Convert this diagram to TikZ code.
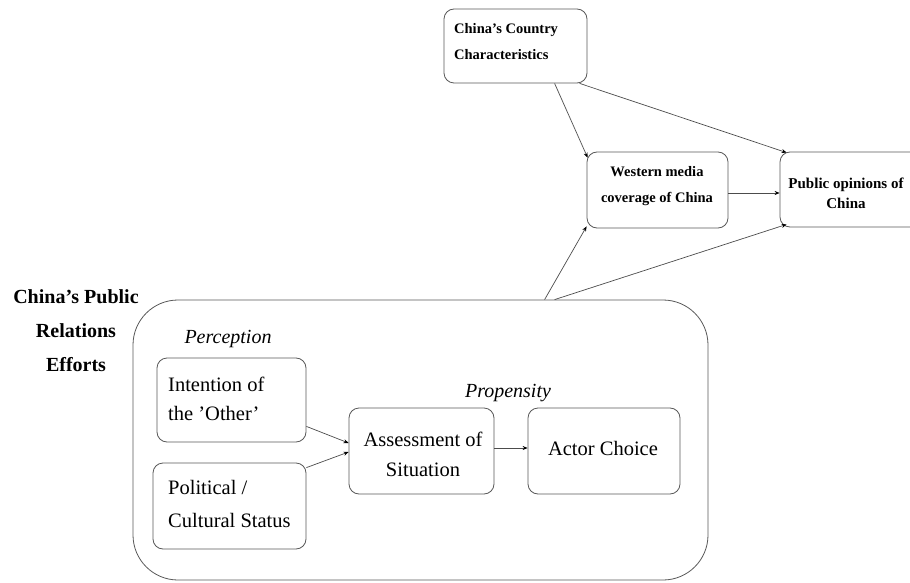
\documentclass[tikz,border=0pt]{standalone}
\usepackage{fontspec}
\setmainfont{Liberation Serif}
\usetikzlibrary{arrows.meta}
\begin{document}
\begin{tikzpicture}[x=1pt,y=-1pt,
  box/.style={draw=black!65, line width=0.8pt, rounded corners=10pt, inner sep=0pt},
  conn/.style={draw=black!70, line width=0.7pt, -{Stealth[length=5pt,width=4pt,color=black]}},
  smallbold/.style={font=\fontsize{14.5}{26}\selectfont\bfseries, inner sep=0pt},
  regular/.style={font=\fontsize{20.5}{29}\selectfont, inner sep=0pt},
  ital/.style={font=\fontsize{20}{24}\selectfont\itshape, inner sep=0pt}]
\clip (0,0) rectangle (910,583);
\fill[white] (0,0) rectangle (910,583);
% top boxes
\node[box, minimum width=143, minimum height=74] (country) at (515.5,46) {};
\node[box, minimum width=141, minimum height=76] (western) at (657.5,190) {};
\node[box, minimum width=155, minimum height=75] (public) at (857.5,189.5) {};
% big box
\node[box, rounded corners=45pt, minimum width=575, minimum height=280] (big) at (420.5,440) {};
% inner boxes
\node[box, minimum width=149, minimum height=84] (intention) at (231.5,400) {};
\node[box, minimum width=153, minimum height=86] (political) at (229.5,506) {};
\node[box, minimum width=145, minimum height=86] (assess) at (421.5,451) {};
\node[box, minimum width=152, minimum height=86] (actor) at (604,451) {};
% texts
\node[smallbold, align=left, anchor=west] (countryt) at (454,42) {China’s Country\\Characteristics};
\node[smallbold, align=center] (westernt) at (657,186.5) {Western media\\coverage of China};
\node[font=\fontsize{15}{20}\selectfont\bfseries, inner sep=0pt, align=center] (publict) at (846,193) {Public opinions of\\China};
\node[font=\fontsize{20}{34}\selectfont\bfseries, inner sep=0pt, align=center] (label) at (76,331) {China’s Public\\Relations\\Efforts};
\node[regular, align=left, anchor=west] (intentiont) at (168,398.5) {Intention of\\the ’Other’};
\node[font=\fontsize{20.5}{33}\selectfont, inner sep=0pt, align=left, anchor=west] (politicalt) at (168,503.5) {Political /\\Cultural Status};
\node[font=\fontsize{20.5}{30}\selectfont, inner sep=0pt, align=center] (assesst) at (423,454) {Assessment of\\Situation};
\node[regular] (actort) at (603,448) {Actor Choice};
\node[ital] (perception) at (228,339) {Perception};
\node[ital] (propensity) at (508,393) {Propensity};
% connectors
\draw[conn] ([xshift=111pt]country.south west) -- ([xshift=1pt,yshift=-6pt]western.north west);
\draw[conn] ([xshift=136pt]country.south west) -- ([xshift=7pt,yshift=-1pt]public.north west);
\draw[conn] ([yshift=-3pt]western.east) -- ([yshift=-3pt]western.east -| public.west);
\draw[conn] ([xshift=412pt]big.north west) -- ([xshift=0pt,yshift=2pt]western.south west);
\draw[conn] ([xshift=422pt]big.north west) -- ([xshift=7pt,yshift=3pt]public.south west);
\draw[conn] ([yshift=16pt]intention.south east) -- ([yshift=8pt]assess.west);
\draw[conn] ([yshift=-5pt]political.north east) -- ([yshift=-1pt]assess.west);
\draw[conn] ([yshift=3pt]assess.east) -- ([yshift=3pt]assess.east -| actor.west);
\end{tikzpicture}
\end{document}
